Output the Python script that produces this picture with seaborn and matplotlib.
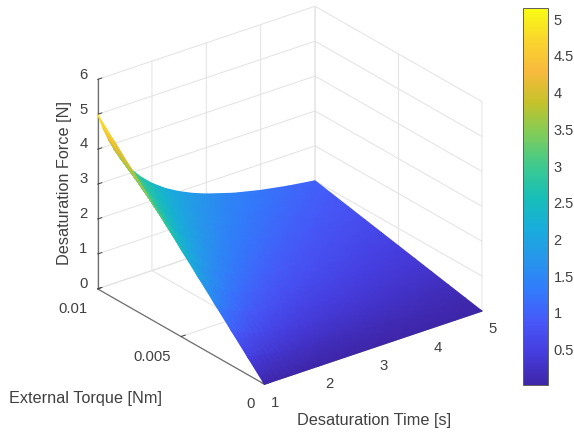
import numpy as np
import matplotlib
matplotlib.use('Agg')
import matplotlib.pyplot as plt
import seaborn as sns
from mpl_toolkits.mplot3d import proj3d

# Desaturation force surface
time_s = [1, 1.1, 1.2, 1.3, 1.4, 1.5, 1.6, 1.8, 2, 2.25, 2.5, 2.75, 3, 3.5, 4, 4.5, 5]
torque_nm = [0, 0.001, 0.002, 0.003, 0.004, 0.005, 0.006, 0.007, 0.008, 0.009, 0.01]
force_n = [
    [0.00, 0.00, 0.00, 0.00, 0.00, 0.00, 0.00, 0.00, 0.00, 0.00, 0.00, 0.00, 0.00, 0.00, 0.00, 0.00, 0.00],
    [0.50, 0.45, 0.42, 0.38, 0.36, 0.33, 0.31, 0.28, 0.25, 0.22, 0.20, 0.18, 0.17, 0.14, 0.13, 0.11, 0.10],
    [1.00, 0.91, 0.83, 0.77, 0.71, 0.67, 0.63, 0.56, 0.50, 0.44, 0.40, 0.36, 0.33, 0.29, 0.25, 0.22, 0.20],
    [1.50, 1.36, 1.25, 1.15, 1.07, 1.00, 0.94, 0.83, 0.75, 0.67, 0.60, 0.55, 0.50, 0.43, 0.38, 0.33, 0.30],
    [2.00, 1.82, 1.67, 1.54, 1.43, 1.33, 1.25, 1.11, 1.00, 0.89, 0.80, 0.73, 0.67, 0.57, 0.50, 0.44, 0.40],
    [2.50, 2.27, 2.08, 1.92, 1.79, 1.67, 1.56, 1.39, 1.25, 1.11, 1.00, 0.91, 0.83, 0.71, 0.63, 0.56, 0.50],
    [3.00, 2.73, 2.50, 2.31, 2.14, 2.00, 1.88, 1.67, 1.50, 1.33, 1.20, 1.09, 1.00, 0.86, 0.75, 0.67, 0.60],
    [3.50, 3.18, 2.92, 2.69, 2.50, 2.33, 2.19, 1.94, 1.75, 1.56, 1.40, 1.27, 1.17, 1.00, 0.88, 0.78, 0.70],
    [4.00, 3.64, 3.33, 3.08, 2.86, 2.67, 2.50, 2.22, 2.00, 1.78, 1.60, 1.45, 1.33, 1.14, 1.00, 0.89, 0.80],
    [4.50, 4.09, 3.75, 3.46, 3.21, 3.00, 2.81, 2.50, 2.25, 2.00, 1.80, 1.64, 1.50, 1.29, 1.13, 1.00, 0.90],
    [5.00, 4.55, 4.17, 3.85, 3.57, 3.33, 3.13, 2.78, 2.50, 2.22, 2.00, 1.82, 1.67, 1.43, 1.25, 1.11, 1.00],
]
cbar_ticks = [0.5, 1, 1.5, 2, 2.5, 3, 3.5, 4, 4.5, 5]
cbar_labels = ['0.5', '1', '1.5', '2', '2.5', '3', '3.5', '4', '4.5', '5']

# parula
parula = ['#3e26a8', '#463cde', '#4758f8', '#327bfc', '#2796eb', '#18addb', '#18bfb6',
          '#3fca8e', '#80cc59', '#c5c22a', '#f8ba3d', '#f9d62d', '#f9fb15']

sns.set_theme(style='white')
plt.rcParams['font.family'] = ['Liberation Sans', 'DejaVu Sans']
cmap = sns.blend_palette(parula, as_cmap=True)
text_col = '#404040'
vmin, vmax = 0.02, 5.15

fig = plt.figure(figsize=(5.74, 4.32), dpi=100)
# square axes, so nothing is cut by the axes box
ax = fig.add_axes([-5 / 574, (432 - 490) / 432, 1.0, 574 / 432], projection='3d', proj_type='ortho')
ax.patch.set_alpha(0)
ax.view_init(elev=26, azim=-127.5)
ax.set_box_aspect((1, 1, 0.85), zoom=0.765)

ax.set_xlim(1, 5)
ax.set_ylim(0, 0.01)
ax.set_zlim(0, 6)
ax.set_xticks([1, 2, 3, 4, 5])
ax.set_xticklabels(['1', '2', '3', '4', '5'], ha='left')
ax.set_yticks([0, 0.005, 0.01])
ax.set_yticklabels(['0', '0.005', '0.01'], ha='right')
ax.set_zticks([0, 1, 2, 3, 4, 5, 6])
ax.set_zticklabels(['0', '1', '2', '3', '4', '5', '6'], va='baseline')
ax.tick_params(labelsize=10.7, colors=text_col, pad=3)
ax.tick_params(axis='x', pad=0)
ax.tick_params(axis='y', pad=2)
ax.tick_params(axis='z', pad=0)

for axis in (ax.xaxis, ax.yaxis, ax.zaxis):
    axis.set_pane_color((1, 1, 1, 0))
    axis.pane.set_edgecolor('#e4e4e4')
    axis.line.set_color('#707070')
    axis.line.set_linewidth(0.9)
    axis._axinfo['grid'].update(color='#e2e2e2', linewidth=0.7)
    axis._axinfo['tick'].update(inward_factor=0.0, outward_factor=0.25, linewidth={True: 0.7, False: 0.5})

# smooth surface: project the table with the 3d axes, then gouraud mesh on an overlay
fig.canvas.draw()
T, Q = np.meshgrid(time_s, torque_nm)
Z = np.array(force_n)
px, py, _ = proj3d.proj_transform(T.ravel(), Q.ravel(), Z.ravel(), ax.get_proj())
disp = ax.transData.transform(np.column_stack([px, py]))
X_d = disp[:, 0].reshape(T.shape)
Y_d = disp[:, 1].reshape(T.shape)

ov = fig.add_axes([0, 0, 1, 1])
ov.set_xlim(0, fig.bbox.width)
ov.set_ylim(0, fig.bbox.height)
ov.axis('off')
# far corner first, near corner last
ov.pcolormesh(X_d[::-1, ::-1], Y_d[::-1, ::-1], Z[::-1, ::-1], shading='gouraud',
              cmap=cmap, vmin=vmin, vmax=vmax)

fig.text(9 / 574, 1 - 399 / 432, 'External Torque [Nm]', fontsize=11.7, color=text_col, va='center')
fig.text(297 / 574, 1 - 421 / 432, 'Desaturation Time [s]', fontsize=11.7, color=text_col, va='center')
fig.text(65 / 574, 1 - 183 / 432, 'Desaturation Force [N]', fontsize=11.7, color=text_col,
         rotation=90, va='center', ha='center')

cax = fig.add_axes([523 / 574, 1 - 385 / 432, 25 / 574, 377 / 432])
sm = plt.cm.ScalarMappable(norm=plt.Normalize(vmin, vmax), cmap=cmap)
cb = fig.colorbar(sm, cax=cax)
cb.set_ticks(cbar_ticks)
cb.set_ticklabels(cbar_labels)
cb.ax.tick_params(direction='in', length=3, width=0.6, labelsize=10.5, colors=text_col, pad=4, right=True)
cb.outline.set_edgecolor('#606060')
cb.outline.set_linewidth(0.7)

fig.savefig('out.png', dpi=100)
